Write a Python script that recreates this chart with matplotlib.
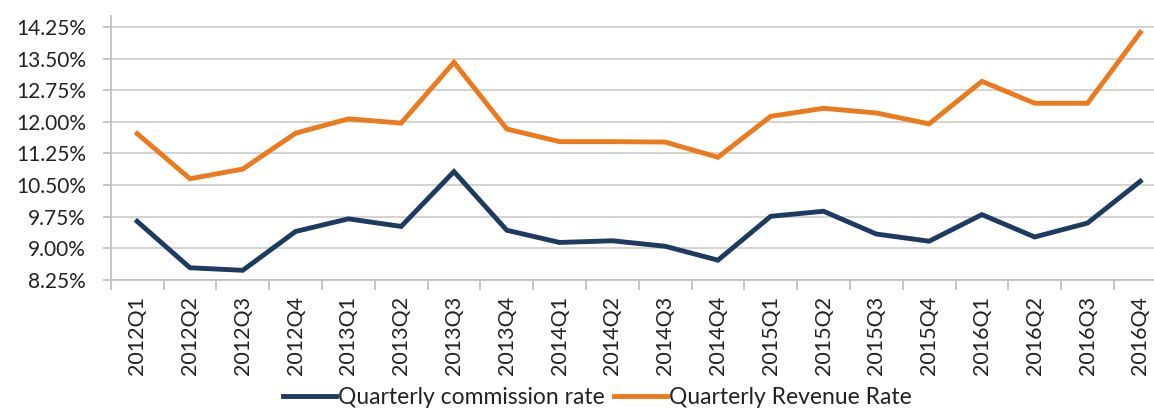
import matplotlib.pyplot as plt
from matplotlib.ticker import FixedLocator, FuncFormatter

# --- dados ---
trimestres = ["2012Q1", "2012Q2", "2012Q3", "2012Q4",
              "2013Q1", "2013Q2", "2013Q3", "2013Q4",
              "2014Q1", "2014Q2", "2014Q3", "2014Q4",
              "2015Q1", "2015Q2", "2015Q3", "2015Q4",
              "2016Q1", "2016Q2", "2016Q3", "2016Q4"]
comissao = [9.64, 8.54, 8.48, 9.40, 9.70, 9.52, 10.82, 9.43,
            9.14, 9.18, 9.05, 8.72, 9.76, 9.88, 9.34, 9.17,
            9.80, 9.27, 9.60, 10.59]
receita = [11.72, 10.65, 10.88, 11.73, 12.07, 11.97, 13.41, 11.83,
           11.53, 11.53, 11.52, 11.16, 12.13, 12.32, 12.21, 11.95,
           12.96, 12.44, 12.44, 14.12]
ticks_y = [8.25, 9.00, 9.75, 10.50, 11.25, 12.00, 12.75, 13.50, 14.25]

plt.rcParams['font.family'] = ['Lato', 'DejaVu Sans']

fig = plt.figure(figsize=(11.54, 4.09), dpi=100)
ax = fig.add_axes([0.096, 0.3154, 0.915, 0.6446])

x = list(range(len(trimestres)))
ax.plot(x, comissao, color='#1c3a62', linewidth=3.5, solid_joinstyle='miter',
        label='Quarterly commission rate', zorder=3)
ax.plot(x, receita, color='#ec7a1c', linewidth=3.5, solid_joinstyle='miter',
        label='Quarterly Revenue Rate', zorder=3)

ax.set_xlim(-0.5, len(trimestres) - 0.5)
ax.set_ylim(8.25, 14.5)

ax.yaxis.set_major_locator(FixedLocator(ticks_y))
ax.yaxis.set_major_formatter(FuncFormatter(lambda v, p: f"{v:.2f}%"))
ax.grid(axis='y', color='#d0d0d0', linewidth=1.3, zorder=0)

# ticks de categoria nas fronteiras, rótulos no centro
ax.set_xticks([i - 0.5 for i in range(len(trimestres) + 1)])
ax.set_xticklabels([])
ax.set_xticks(x, minor=True)
ax.set_xticklabels(trimestres, minor=True, rotation=90, fontsize=15.5,
                   color='#222222')
ax.tick_params(axis='x', which='major', length=7, color='#c0c0c0', width=1.3)
ax.tick_params(axis='x', which='minor', length=0, pad=11.5)
ax.tick_params(axis='y', length=6, color='#c0c0c0', width=1.3,
               labelsize=15, labelcolor='#222222', pad=12)

for lado in ['top', 'right']:
    ax.spines[lado].set_visible(False)
ax.spines['left'].set_color('#c0c0c0')
ax.spines['left'].set_linewidth(1.3)
ax.spines['bottom'].set_color('#c0c0c0')
ax.spines['bottom'].set_linewidth(1.3)

fig.legend(loc='center', bbox_to_anchor=(0.518, 0.027), ncol=2,
           frameon=False, fontsize=16.5, handlelength=2.3, handletextpad=0.1,
           columnspacing=0.4, labelcolor='#222222')

fig.savefig('out.png', dpi=100)
